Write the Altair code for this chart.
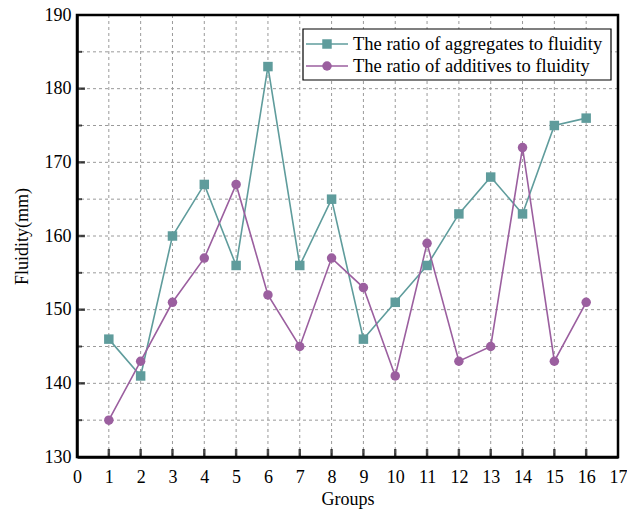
import altair as alt
import pandas as pd

groups = list(range(1, 17))
aggregates = [146, 141, 160, 167, 156, 183, 156, 165, 146, 151, 156, 163, 168, 163, 175, 176]
additives = [135, 143, 151, 157, 167, 152, 145, 157, 153, 141, 159, 143, 145, 172, 143, 151]
series_names = ["The ratio of aggregates to fluidity", "The ratio of additives to fluidity"]
colors = ["#5f9c9c", "#9b5f9f"]

W, H = 541, 442
FONT = "Liberation Serif"

df = pd.DataFrame({
    "group": groups * 2,
    "value": aggregates + additives,
    "series": [series_names[0]] * 16 + [series_names[1]] * 16,
})

x_scale = alt.Scale(domain=[0, 17], nice=False, zero=False)
y_scale = alt.Scale(domain=[130, 190], nice=False, zero=False)

x_axis = alt.Axis(values=list(range(0, 18)), ticks=False, labelFontSize=18, labelFont=FONT,
                  labelColor="black", labelPadding=11, labelOverlap=False, labelFlush=False,
                  title="Groups", titleFont=FONT,
                  titleFontSize=18, titleFontWeight="normal", titleColor="black", titlePadding=4,
                  grid=False, domainColor="black", domainWidth=2.5)
y_axis = alt.Axis(values=list(range(130, 191, 10)), ticks=False, labelFontSize=18, labelFont=FONT,
                  labelColor="black", labelPadding=6, labelOverlap=False, labelFlush=False,
                  title="Fluidity(mm)", titleFont=FONT,
                  titleFontSize=18, titleFontWeight="normal", titleColor="black", titlePadding=13,
                  grid=False, domainColor="black", domainWidth=2.5)


def X(field):
    return alt.X(field, type="quantitative", scale=x_scale, axis=x_axis)


def Y(field):
    return alt.Y(field, type="quantitative", scale=y_scale, axis=y_axis)


# dashed grid lines: every group, every 5 mm
xgrid = alt.Chart(pd.DataFrame({"g": list(range(1, 17))})).mark_rule(
    color="#9a9a9a", strokeDash=[3, 3], strokeWidth=1
).encode(x=X("g"))
ygrid = alt.Chart(pd.DataFrame({"v": list(range(135, 190, 5))})).mark_rule(
    color="#9a9a9a", strokeDash=[3, 3], strokeWidth=1
).encode(y=Y("v"))

# inward ticks
xticks = alt.Chart(pd.DataFrame({"g": list(range(1, 17))})).mark_tick(
    color="black", thickness=2.5, size=8, orient="vertical"
).encode(x=X("g"), y=alt.value(H - 4))
ymajor = alt.Chart(pd.DataFrame({"v": list(range(140, 190, 10))})).mark_tick(
    color="black", thickness=2.5, size=8, orient="horizontal"
).encode(y=Y("v"), x=alt.value(4))
yminor = alt.Chart(pd.DataFrame({"v": list(range(135, 190, 10))})).mark_tick(
    color="black", thickness=2, size=5, orient="horizontal"
).encode(y=Y("v"), x=alt.value(2.5))

color_scale = alt.Scale(domain=series_names, range=colors)

lines = alt.Chart(df).mark_line(strokeWidth=1.6).encode(
    x=X("group"),
    y=Y("value"),
    color=alt.Color("series:N", scale=color_scale, legend=None),
)
pts = alt.Chart(df).mark_point(filled=True, opacity=1, size=90).encode(
    x=X("group"),
    y=Y("value"),
    color=alt.Color("series:N", scale=color_scale, legend=None),
    shape=alt.Shape("series:N", scale=alt.Scale(domain=series_names, range=["square", "circle"]), legend=None),
)

# frame on top and right
frame = alt.Chart(pd.DataFrame({"a": [0]})).mark_rect(
    fill=None, stroke="black", strokeWidth=2.5
).encode(x=alt.value(0), x2=alt.value(W), y=alt.value(0), y2=alt.value(H))

# legend box
leg = pd.DataFrame({
    "name": series_names,
    "color": colors,
    "shape": ["square", "circle"],
    "yy": [29, 51],
})
leg_box = alt.Chart(pd.DataFrame({"a": [0]})).mark_rect(
    fill="white", stroke="black", strokeWidth=1.2
).encode(x=alt.value(226), x2=alt.value(534), y=alt.value(14), y2=alt.value(65))
leg_lines = alt.Chart(leg).mark_rule(strokeWidth=1.6).encode(
    x=alt.value(229), x2=alt.value(271), y=alt.Y("yy:Q", scale=None),
    color=alt.Color("color:N", scale=None),
)
leg_pts = alt.Chart(leg).mark_point(filled=True, opacity=1, size=90).encode(
    x=alt.value(250), y=alt.Y("yy:Q", scale=None),
    color=alt.Color("color:N", scale=None),
    shape=alt.Shape("shape:N", scale=None),
)
leg_text = alt.Chart(leg).mark_text(
    align="left", baseline="middle", font=FONT, fontSize=18.5, color="black"
).encode(x=alt.value(276), y=alt.Y("yy:Q", scale=None), text="name:N")

chart = alt.layer(
    xgrid, ygrid, lines, pts, frame, xticks, ymajor, yminor, leg_box, leg_lines, leg_pts, leg_text
).properties(
    width=W, height=H,
    autosize=alt.AutoSizeParams(type="none"),
    padding={"left": 77, "top": 15, "right": 9, "bottom": 55},
).configure_view(stroke=None).configure(background="white")

chart.save("out.html", embed_options={"renderer": "svg", "actions": False})
